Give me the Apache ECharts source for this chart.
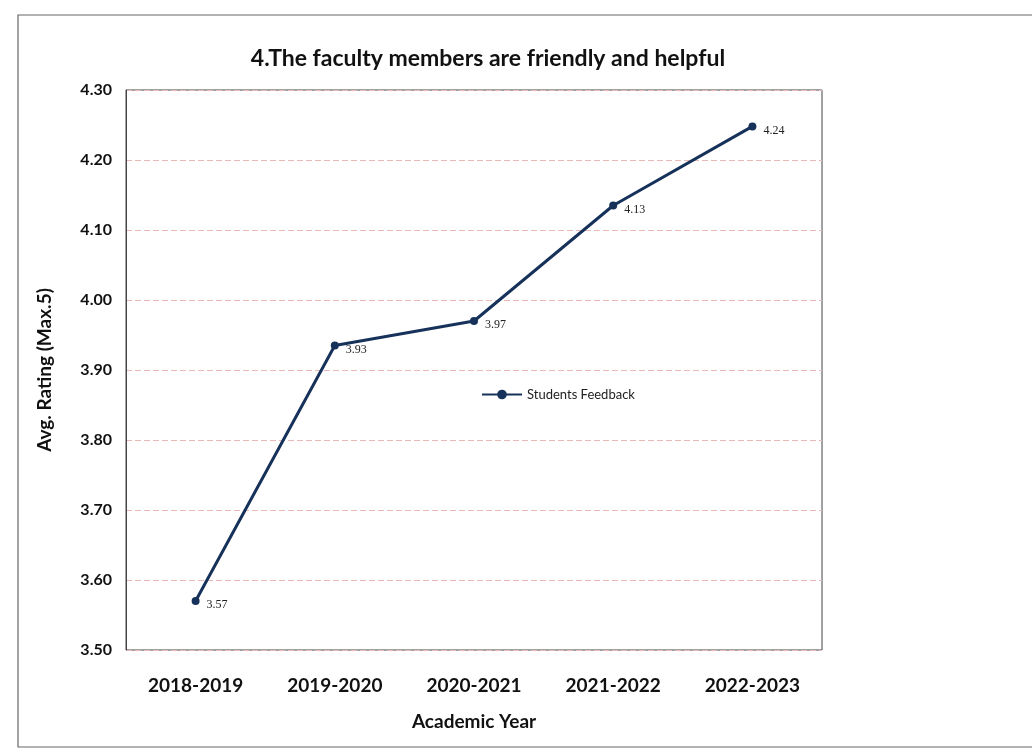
<!DOCTYPE html>
<html>
<head>
<meta charset="utf-8">
<script src="https://cdn.jsdelivr.net/npm/echarts@6/dist/echarts.min.js"></script>
<style>
html,body{margin:0;padding:0;background:#fff;}
#chart{width:1032px;height:754px;}
</style>
</head>
<body>
<div id="chart"></div>
<script>
const categories = ["2018-2019", "2019-2020", "2020-2021", "2021-2022", "2022-2023"];
const ratings = [3.57, 3.935, 3.97, 4.135, 4.248];
const ratingLabels = ["3.57", "3.93", "3.97", "4.13", "4.24"];
const seriesName = "Students Feedback";
const titleText = "4.The faculty members are friendly and helpful";

const chart = echarts.init(document.getElementById('chart'));
chart.setOption({
  backgroundColor: '#ffffff',
  animation: false,
  graphic: [{
    type: 'rect',
    shape: { x: 18, y: 15, width: 1020, height: 732 },
    style: { fill: 'none', stroke: '#666', lineWidth: 1.2 },
    z: -1
  }],
  title: {
    text: titleText,
    left: 483, top: 42, textAlign: 'center',
    textStyle: { fontFamily: 'Lato', fontWeight: 'bold', fontSize: 23, color: '#111' }
  },
  legend: {
    data: [seriesName],
    left: 476, top: 383,
    itemWidth: 40, itemHeight: 12,
    itemGap: 4,
    textStyle: { fontFamily: 'Lato', fontSize: 13, color: '#222' }
  },
  grid: {
    left: 126, right: 210, top: 90, bottom: 104,
    show: true, borderColor: '#444', borderWidth: 1, backgroundColor: 'transparent'
  },
  xAxis: {
    type: 'category',
    data: categories,
    boundaryGap: true,
    name: 'Academic Year',
    nameLocation: 'middle',
    nameGap: 62,
    nameTextStyle: { fontFamily: 'Lato', fontWeight: 'bold', fontSize: 19, color: '#111' },
    axisLine: { show: false },
    axisTick: { show: false },
    axisLabel: { fontFamily: 'Lato', fontWeight: 'bold', fontSize: 19, color: '#111', margin: 26 }
  },
  yAxis: {
    type: 'value',
    min: 3.5, max: 4.3, interval: 0.1,
    name: 'Avg. Rating (Max.5)',
    nameLocation: 'middle',
    nameGap: 72,
    nameTextStyle: { fontFamily: 'Lato', fontWeight: 'bold', fontSize: 19, color: '#111' },
    axisLine: { show: true, lineStyle: { color: '#444' } },
    axisTick: { show: false },
    axisLabel: { fontFamily: 'Lato', fontWeight: 'bold', fontSize: 16, color: '#111', margin: 14,
      formatter: v => v.toFixed(2) },
    splitLine: { show: true, lineStyle: { color: '#ebb8b8', type: [6, 3], width: 1 } }
  },
  series: [{
    name: seriesName,
    type: 'line',
    data: ratings,
    symbol: 'circle',
    symbolSize: 8,
    lineStyle: { color: '#17325a', width: 3 },
    itemStyle: { color: '#17325a' },
    label: {
      show: true,
      position: 'right',
      offset: [2, 4],
      formatter: p => ratingLabels[p.dataIndex],
      fontFamily: 'Liberation Serif', fontSize: 12, color: '#222'
    }
  }]
});
</script>
</body>
</html>
